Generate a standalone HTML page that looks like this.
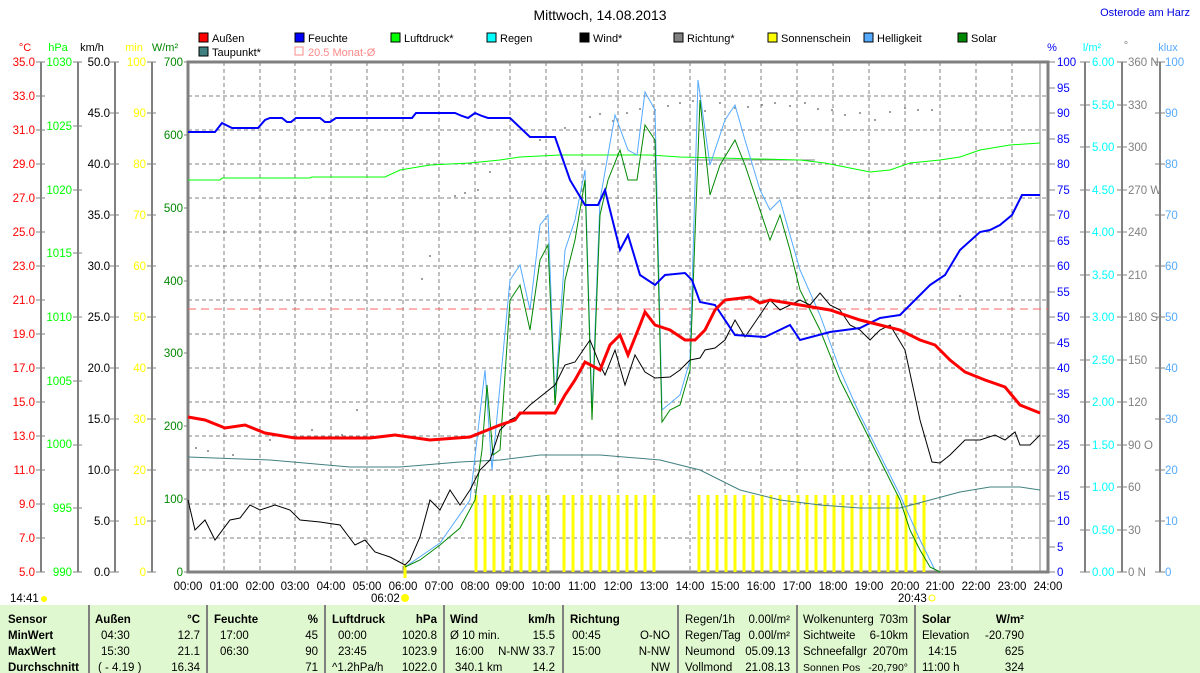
<!DOCTYPE html>
<html><head><meta charset="utf-8"><style>
body{margin:0;background:#fff;width:1200px;height:673px;overflow:hidden;font-family:"Liberation Sans",sans-serif}
svg{display:block}
text{font-family:"Liberation Sans",sans-serif;font-size:11.5px}
</style></head><body>
<svg width="1200" height="673" xmlns="http://www.w3.org/2000/svg">
<rect width="1200" height="673" fill="#fff"/>
<text x="600" y="20" text-anchor="middle" style="font-size:14px">Mittwoch, 14.08.2013</text>
<text x="1190" y="16" text-anchor="end" fill="#0000e0" style="font-size:11px">Osterode am Harz</text>
<g>
<rect x="199" y="33" width="9" height="9" fill="#f00" stroke="#000"/><text x="212" y="42" style="font-size:11px">Außen</text>
<rect x="295" y="33" width="9" height="9" fill="#00f" stroke="#000"/><text x="308" y="42" style="font-size:11px">Feuchte</text>
<rect x="391" y="33" width="9" height="9" fill="#0f0" stroke="#000"/><text x="404" y="42" style="font-size:11px">Luftdruck*</text>
<rect x="487" y="33" width="9" height="9" fill="#0ff" stroke="#000"/><text x="500" y="42" style="font-size:11px">Regen</text>
<rect x="580" y="33" width="9" height="9" fill="#000" stroke="#000"/><text x="593" y="42" style="font-size:11px">Wind*</text>
<rect x="674" y="33" width="9" height="9" fill="#808080" stroke="#000"/><text x="687" y="42" style="font-size:11px">Richtung*</text>
<rect x="768" y="33" width="9" height="9" fill="#ff0" stroke="#000"/><text x="781" y="42" style="font-size:11px">Sonnenschein</text>
<rect x="864" y="33" width="9" height="9" fill="#5af" stroke="#000"/><text x="877" y="42" style="font-size:11px">Helligkeit</text>
<rect x="958" y="33" width="9" height="9" fill="#080" stroke="#000"/><text x="971" y="42" style="font-size:11px">Solar</text>
<rect x="199" y="47" width="9" height="9" fill="#408080" stroke="#000"/><text x="212" y="56" style="font-size:11px">Taupunkt*</text>
<rect x="295" y="47" width="8" height="8" fill="none" stroke="#f88"/><text x="308" y="56" fill="#f88" style="font-size:11px">20.5 Monat-Ø</text>
</g>
<g>
<text x="25" y="51" text-anchor="middle" fill="#f00" style="font-size:11px">°C</text>
<text x="58" y="51" text-anchor="middle" fill="#0f0" style="font-size:11px">hPa</text>
<text x="92" y="51" text-anchor="middle" style="font-size:11px">km/h</text>
<text x="134" y="51" text-anchor="middle" fill="#ff0" style="font-size:11px">min</text>
<text x="165" y="51" text-anchor="middle" fill="#080" style="font-size:11px">W/m²</text>
<text x="1052" y="51" text-anchor="middle" fill="#00f" style="font-size:11px">%</text>
<text x="1092" y="51" text-anchor="middle" fill="#0ff" style="font-size:11px">l/m²</text>
<text x="1126" y="49" text-anchor="middle" fill="#808080" style="font-size:11px">°</text>
<text x="1168" y="51" text-anchor="middle" fill="#5af" style="font-size:11px">klux</text>
</g>
<g stroke="#808080" stroke-dasharray="4,3" stroke-width="1">
<path d="M224,62V572M260,62V572M295,62V572M331,62V572M367,62V572M403,62V572M439,62V572M475,62V572M510,62V572M546,62V572M582,62V572M618,62V572M654,62V572M690,62V572M725,62V572M761,62V572M797,62V572M833,62V572M869,62V572M905,62V572M940,62V572M976,62V572M1012,62V572"/>
<path d="M188,96H1048M188,130H1048M188,164H1048M188,198H1048M188,232H1048M188,266H1048M188,300H1048M188,334H1048M188,368H1048M188,402H1048M188,436H1048M188,470H1048M188,504H1048M188,538H1048"/>
</g>
<g stroke="#808080" stroke-width="2" fill="none">
<path d="M41,62V572M78,62V572M115,62V572M152,62V572"/>
<path d="M1085,62V572M1122,62V572M1160,62V572"/>
</g>
<path d="M188,62H1048V572H188Z" stroke="#808080" stroke-width="3" fill="none"/>
<line x1="1040" y1="62" x2="1040" y2="572" stroke="#808080" stroke-width="1"/>
<g fill="#f00" text-anchor="end">
<text x="35" y="576">5.0</text><text x="35" y="542">7.0</text><text x="35" y="508">9.0</text><text x="35" y="474">11.0</text><text x="35" y="440">13.0</text><text x="35" y="406">15.0</text><text x="35" y="372">17.0</text><text x="35" y="338">19.0</text><text x="35" y="304">21.0</text><text x="35" y="270">23.0</text><text x="35" y="236">25.0</text><text x="35" y="202">27.0</text><text x="35" y="168">29.0</text><text x="35" y="134">31.0</text><text x="35" y="100">33.0</text><text x="35" y="66">35.0</text>
</g>
<g fill="#0f0" text-anchor="end">
<text x="72" y="576">990</text><text x="72" y="512">995</text><text x="72" y="448">1000</text><text x="72" y="385">1005</text><text x="72" y="321">1010</text><text x="72" y="257">1015</text><text x="72" y="194">1020</text><text x="72" y="130">1025</text><text x="72" y="66">1030</text>
</g>
<g fill="#000" text-anchor="end">
<text x="110" y="576">0.0</text><text x="110" y="525">5.0</text><text x="110" y="474">10.0</text><text x="110" y="423">15.0</text><text x="110" y="372">20.0</text><text x="110" y="321">25.0</text><text x="110" y="270">30.0</text><text x="110" y="219">35.0</text><text x="110" y="168">40.0</text><text x="110" y="117">45.0</text><text x="110" y="66">50.0</text>
</g>
<g fill="#ff0" text-anchor="end">
<text x="146" y="576">0</text><text x="146" y="525">10</text><text x="146" y="474">20</text><text x="146" y="423">30</text><text x="146" y="372">40</text><text x="146" y="321">50</text><text x="146" y="270">60</text><text x="146" y="219">70</text><text x="146" y="168">80</text><text x="146" y="117">90</text><text x="146" y="66">100</text>
</g>
<g fill="#080" text-anchor="end">
<text x="183" y="576">0</text><text x="183" y="503">100</text><text x="183" y="430">200</text><text x="183" y="357">300</text><text x="183" y="285">400</text><text x="183" y="212">500</text><text x="183" y="139">600</text><text x="183" y="66">700</text>
</g>
<g stroke="#808080">
<path d="M36,572h9M36,538h9M36,504h9M36,470h9M36,436h9M36,402h9M36,368h9M36,334h9M36,300h9M36,266h9M36,232h9M36,198h9M36,164h9M36,130h9M36,96h9M36,62h9"/>
<path d="M73,572h9M73,508h9M73,445h9M73,381h9M73,317h9M73,253h9M73,190h9M73,126h9M73,62h9"/>
<path d="M110,572h9M110,521h9M110,470h9M110,419h9M110,368h9M110,317h9M110,266h9M110,215h9M110,164h9M110,113h9M110,62h9"/>
<path d="M147,572h9M147,521h9M147,470h9M147,419h9M147,368h9M147,317h9M147,266h9M147,215h9M147,164h9M147,113h9M147,62h9"/>
<path d="M184,572h5M184,499h5M184,426h5M184,353h5M184,281h5M184,208h5M184,135h5M184,62h5"/>
</g>
<g stroke="#808080">
<path d="M1048,572h7M1048,547h7M1048,521h7M1048,496h7M1048,470h7M1048,445h7M1048,419h7M1048,394h7M1048,368h7M1048,343h7M1048,317h7M1048,292h7M1048,266h7M1048,241h7M1048,215h7M1048,190h7M1048,164h7M1048,139h7M1048,113h7M1048,88h7M1048,62h7"/>
<path d="M1080,572h10M1080,530h10M1080,487h10M1080,445h10M1080,402h10M1080,360h10M1080,317h10M1080,275h10M1080,232h10M1080,190h10M1080,147h10M1080,105h10M1080,62h10"/>
<path d="M1117,572h10M1117,530h10M1117,487h10M1117,445h10M1117,402h10M1117,360h10M1117,317h10M1117,275h10M1117,232h10M1117,190h10M1117,147h10M1117,105h10M1117,62h10"/>
<path d="M1155,572h10M1155,521h10M1155,470h10M1155,419h10M1155,368h10M1155,317h10M1155,266h10M1155,215h10M1155,164h10M1155,113h10M1155,62h10"/>
</g>
<g fill="#00f">
<text x="1057" y="576">0</text><text x="1057" y="551">5</text><text x="1057" y="525">10</text><text x="1057" y="500">15</text><text x="1057" y="474">20</text><text x="1057" y="449">25</text><text x="1057" y="423">30</text><text x="1057" y="398">35</text><text x="1057" y="372">40</text><text x="1057" y="347">45</text><text x="1057" y="321">50</text><text x="1057" y="296">55</text><text x="1057" y="270">60</text><text x="1057" y="245">65</text><text x="1057" y="219">70</text><text x="1057" y="194">75</text><text x="1057" y="168">80</text><text x="1057" y="143">85</text><text x="1057" y="117">90</text><text x="1057" y="92">95</text><text x="1057" y="66">100</text>
</g>
<g fill="#0ff">
<text x="1092" y="576">0.00</text><text x="1092" y="534">0.50</text><text x="1092" y="491">1.00</text><text x="1092" y="449">1.50</text><text x="1092" y="406">2.00</text><text x="1092" y="364">2.50</text><text x="1092" y="321">3.00</text><text x="1092" y="279">3.50</text><text x="1092" y="236">4.00</text><text x="1092" y="194">4.50</text><text x="1092" y="151">5.00</text><text x="1092" y="109">5.50</text><text x="1092" y="66">6.00</text>
</g>
<g fill="#808080">
<text x="1128" y="576">0   N</text><text x="1128" y="534">30</text><text x="1128" y="491">60</text><text x="1128" y="449">90   O</text><text x="1128" y="406">120</text><text x="1128" y="364">150</text><text x="1128" y="321">180  S</text><text x="1128" y="279">210</text><text x="1128" y="236">240</text><text x="1128" y="194">270  W</text><text x="1128" y="151">300</text><text x="1128" y="109">330</text><text x="1128" y="66">360  N</text>
</g>
<g fill="#5af">
<text x="1165" y="576">0</text><text x="1165" y="525">10</text><text x="1165" y="474">20</text><text x="1165" y="423">30</text><text x="1165" y="372">40</text><text x="1165" y="321">50</text><text x="1165" y="270">60</text><text x="1165" y="219">70</text><text x="1165" y="168">80</text><text x="1165" y="117">90</text><text x="1165" y="66">100</text>
</g>
<g text-anchor="middle">
<text x="188" y="590">00:00</text><text x="224" y="590">01:00</text><text x="260" y="590">02:00</text><text x="295" y="590">03:00</text><text x="331" y="590">04:00</text><text x="367" y="590">05:00</text><text x="403" y="590">06:00</text><text x="439" y="590">07:00</text><text x="475" y="590">08:00</text><text x="510" y="590">09:00</text><text x="546" y="590">10:00</text><text x="582" y="590">11:00</text><text x="618" y="590">12:00</text><text x="654" y="590">13:00</text><text x="690" y="590">14:00</text><text x="725" y="590">15:00</text><text x="761" y="590">16:00</text><text x="797" y="590">17:00</text><text x="833" y="590">18:00</text><text x="869" y="590">19:00</text><text x="905" y="590">20:00</text><text x="940" y="590">21:00</text><text x="976" y="590">22:00</text><text x="1012" y="590">23:00</text><text x="1048" y="590">24:00</text>
</g>
<text x="10" y="602">14:41</text><circle cx="44" cy="599" r="3" fill="#ff0"/>
<text x="371" y="602">06:02</text><circle cx="405" cy="598" r="4" fill="#ff0"/>
<text x="898" y="602">20:43</text><circle cx="932" cy="598" r="3" fill="none" stroke="#ff0"/>
<path stroke="#ff0" stroke-width="3" d="M476,495V572M485,495V572M494,495V572M503,495V572M512,495V572M521,495V572M530,495V572M539,495V572M548,495V572M564,495V572M573,495V572M582,495V572M591,495V572M600,495V572M609,495V572M618,495V572M627,495V572M636,495V572M645,495V572M654,495V572M699,495V572M708,495V572M717,495V572M726,495V572M735,495V572M744,495V572M753,495V572M762,495V572M771,495V572M780,495V572M789,495V572M798,495V572M807,495V572M816,495V572M825,495V572M834,495V572M843,495V572M852,495V572M861,495V572M870,495V572M879,495V572M888,495V572M897,495V572M906,495V572M915,495V572M924,495V572"/>
<path stroke="#ff0" stroke-width="3" d="M405,565V578"/>
<line x1="188" y1="309" x2="1048" y2="309" stroke="#f66" stroke-dasharray="8,5"/>
<g fill="#808080">
<circle cx="196" cy="448" r="1"/><circle cx="208" cy="451" r="1"/><circle cx="233" cy="455" r="1"/><circle cx="270" cy="440" r="1"/><circle cx="312" cy="430" r="1"/><circle cx="342" cy="435" r="1"/><circle cx="357" cy="410" r="1"/><circle cx="422" cy="279" r="1"/><circle cx="430" cy="256" r="1"/><circle cx="455" cy="196" r="1"/><circle cx="465" cy="193" r="1"/><circle cx="478" cy="190" r="1"/><circle cx="490" cy="172" r="1"/><circle cx="510" cy="154" r="1"/><circle cx="540" cy="140" r="1"/><circle cx="565" cy="128" r="1"/><circle cx="590" cy="117" r="1"/><circle cx="600" cy="114" r="1"/><circle cx="613" cy="121" r="1"/><circle cx="627" cy="113" r="1"/><circle cx="640" cy="109" r="1"/><circle cx="655" cy="110" r="1"/><circle cx="668" cy="106" r="1"/><circle cx="680" cy="103" r="1"/><circle cx="693" cy="101" r="1"/><circle cx="705" cy="111" r="1"/><circle cx="720" cy="103" r="1"/><circle cx="735" cy="108" r="1"/><circle cx="748" cy="107" r="1"/><circle cx="762" cy="105" r="1"/><circle cx="775" cy="103" r="1"/><circle cx="790" cy="106" r="1"/><circle cx="805" cy="103" r="1"/><circle cx="818" cy="109" r="1"/><circle cx="832" cy="110" r="1"/><circle cx="845" cy="115" r="1"/><circle cx="860" cy="113" r="1"/><circle cx="875" cy="120" r="1"/><circle cx="890" cy="112" r="1"/><circle cx="905" cy="108" r="1"/><circle cx="918" cy="110" r="1"/><circle cx="932" cy="110" r="1"/><circle cx="940" cy="220" r="1"/><circle cx="960" cy="296" r="1"/>
</g>
<line x1="690" y1="160" x2="815" y2="160" stroke="#808080"/>
<polyline fill="none" stroke="#0f0" points="188,180 220,180 222,178 310,178 312,177 385,177 400,170 430,165 470,163 500,160 520,157 560,155 650,155 680,157 800,160 825,163 850,168 870,172 890,170 910,163 940,160 960,157 980,150 1010,145 1040,143"/>
<polyline fill="none" stroke="#408080" points="188,457 270,460 350,467 400,467 460,462 500,460 540,455 600,455 660,460 700,470 740,490 780,500 820,505 860,508 900,508 930,500 960,492 990,487 1020,487 1040,490"/>
<polyline fill="none" stroke="#5af" points="405,567 440,543 470,500 485,370 492,470 510,280 520,265 530,310 540,225 548,215 555,400 565,250 575,220 585,170 592,410 600,200 615,115 628,150 637,155 645,92 655,110 662,410 680,395 690,360 698,80 710,165 725,120 735,105 745,140 760,190 770,210 780,200 800,270 820,315 840,370 860,415 880,455 900,495 920,540 935,570"/>
<polyline fill="none" stroke="#080" points="405,567 420,560 440,545 460,528 475,500 482,450 487,385 493,455 500,450 510,300 520,285 530,330 540,260 548,245 555,405 565,280 575,240 585,180 592,420 600,215 608,180 620,150 628,180 637,180 645,125 655,140 662,422 670,410 680,405 690,370 700,100 710,195 720,165 735,140 745,165 760,210 770,240 780,215 790,250 800,290 820,330 840,380 860,420 880,460 900,500 910,530 920,550 930,567 940,572"/>
<polyline fill="none" stroke="#000" points="188,500 195,530 205,520 215,540 230,520 240,518 250,505 260,510 275,505 290,510 300,520 320,522 340,525 355,545 365,540 375,552 390,557 405,565 410,560 420,537 430,500 440,510 450,490 460,505 470,490 480,470 490,460 500,430 510,420 520,415 530,405 545,393 555,385 565,365 575,362 590,340 600,365 605,375 615,350 625,385 635,355 645,372 655,378 670,377 680,370 690,360 700,358 705,350 715,348 725,340 735,320 745,337 760,315 770,300 780,310 790,305 800,300 810,305 820,293 830,305 840,310 850,325 860,330 870,340 880,330 890,325 905,350 920,420 932,462 940,463 950,455 965,440 980,440 995,435 1005,440 1015,432 1020,445 1030,445 1040,435"/>
<polyline fill="none" stroke="#00f" stroke-width="2" points="188,132 215,132 222,123 228,126 232,128 258,128 265,120 270,118 282,118 287,122 291,122 296,118 320,118 325,122 330,122 336,118 412,118 416,113 455,113 462,116 468,118 475,113 482,116 488,118 510,118 530,137 555,137 570,180 585,205 598,205 605,190 620,250 628,235 640,275 655,285 665,275 685,273 692,280 700,302 715,305 735,335 765,337 790,325 800,340 830,332 860,328 880,318 900,315 915,300 930,285 945,275 960,250 980,232 990,230 1000,225 1012,215 1022,195 1040,195"/>
<polyline fill="none" stroke="#f00" stroke-width="3" points="188,417 205,420 225,428 245,425 265,433 295,438 370,438 395,435 430,440 470,437 500,425 515,420 520,413 555,413 565,395 575,380 585,362 600,370 610,345 620,335 628,355 640,325 645,312 655,325 670,330 685,340 695,340 705,330 715,310 725,300 750,297 760,303 770,300 800,305 830,310 860,320 880,325 900,330 920,340 935,345 950,360 965,372 985,380 1005,387 1020,405 1040,413"/>
<rect x="0" y="605" width="1200" height="68" fill="#e0f8d0"/>
<g stroke="#808080" stroke-width="2"><path d="M89,605V673M207,605V673M325,605V673M444,605V673M563,605V673M678,605V673M797,605V673M915,605V673"/></g>
<g>
<text x="8" y="623" font-weight="bold">Sensor</text><text x="8" y="639" font-weight="bold">MinWert</text><text x="8" y="655" font-weight="bold">MaxWert</text><text x="8" y="671" font-weight="bold">Durchschnitt</text>
<text x="95" y="623" font-weight="bold">Außen</text><text x="200" y="623" text-anchor="end" font-weight="bold">°C</text>
<text x="214" y="623" font-weight="bold">Feuchte</text><text x="318" y="623" text-anchor="end" font-weight="bold">%</text>
<text x="332" y="623" font-weight="bold">Luftdruck</text><text x="437" y="623" text-anchor="end" font-weight="bold">hPa</text>
<text x="450" y="623" font-weight="bold">Wind</text><text x="555" y="623" text-anchor="end" font-weight="bold">km/h</text>
<text x="570" y="623" font-weight="bold">Richtung</text>
<text x="922" y="623" font-weight="bold">Solar</text><text x="1024" y="623" text-anchor="end" font-weight="bold">W/m²</text>
<text x="101" y="639">04:30</text><text x="200" y="639" text-anchor="end">12.7</text>
<text x="101" y="655">15:30</text><text x="200" y="655" text-anchor="end">21.1</text>
<text x="98" y="671">( - 4.19 )</text><text x="200" y="671" text-anchor="end">16.34</text>
<text x="220" y="639">17:00</text><text x="318" y="639" text-anchor="end">45</text>
<text x="220" y="655">06:30</text><text x="318" y="655" text-anchor="end">90</text>
<text x="318" y="671" text-anchor="end">71</text>
<text x="338" y="639">00:00</text><text x="437" y="639" text-anchor="end">1020.8</text>
<text x="338" y="655">23:45</text><text x="437" y="655" text-anchor="end">1023.9</text>
<text x="332" y="671">^1.2hPa/h</text><text x="437" y="671" text-anchor="end">1022.0</text>
<text x="450" y="639">Ø 10 min.</text><text x="555" y="639" text-anchor="end">15.5</text>
<text x="455" y="655">16:00</text><text x="555" y="655" text-anchor="end">N-NW 33.7</text>
<text x="455" y="671">340.1 km</text><text x="555" y="671" text-anchor="end">14.2</text>
<text x="572" y="639">00:45</text><text x="670" y="639" text-anchor="end">O-NO</text>
<text x="572" y="655">15:00</text><text x="670" y="655" text-anchor="end">N-NW</text>
<text x="670" y="671" text-anchor="end">NW</text>
<text x="685" y="623">Regen/1h</text><text x="790" y="623" text-anchor="end">0.00l/m²</text>
<text x="685" y="639">Regen/Tag</text><text x="790" y="639" text-anchor="end">0.00l/m²</text>
<text x="685" y="655">Neumond</text><text x="790" y="655" text-anchor="end">05.09.13</text>
<text x="685" y="671">Vollmond</text><text x="790" y="671" text-anchor="end">21.08.13</text>
<text x="803" y="623">Wolkenunterg</text><text x="908" y="623" text-anchor="end">703m</text>
<text x="803" y="639">Sichtweite</text><text x="908" y="639" text-anchor="end">6-10km</text>
<text x="803" y="655">Schneefallgr</text><text x="908" y="655" text-anchor="end">2070m</text>
<text x="803" y="671" style="font-size:10.5px">Sonnen Pos</text><text x="908" y="671" text-anchor="end" style="font-size:10.5px">-20,790°</text>
<text x="922" y="639">Elevation</text><text x="1024" y="639" text-anchor="end">-20.790</text>
<text x="928" y="655">14:15</text><text x="1024" y="655" text-anchor="end">625</text>
<text x="922" y="671">11:00 h</text><text x="1024" y="671" text-anchor="end">324</text>
</g>
</svg>
</body></html>
